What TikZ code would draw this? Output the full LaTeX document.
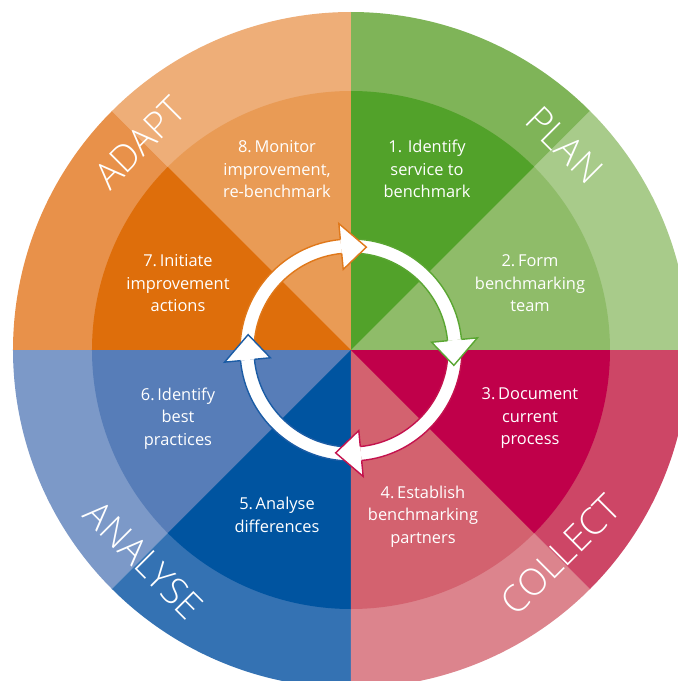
\documentclass[tikz,border=0pt]{standalone}
\usepackage{fontspec}
\setmainfont{Open Sans}
\newfontfamily\phasefont{Open Sans Light}

% quadrant palettes: dark sector, light sector, ring over dark, ring over light
\definecolor{orDark}{HTML}{DE6E0B}
\definecolor{orMid}{HTML}{E99B55}
\definecolor{orRingA}{HTML}{E8914A}
\definecolor{orRingB}{HTML}{EEAE78}
\definecolor{grDark}{HTML}{52A22A}
\definecolor{grMid}{HTML}{8FBC69}
\definecolor{grRingA}{HTML}{7FB458}
\definecolor{grRingB}{HTML}{A8CB8A}
\definecolor{rdDark}{HTML}{C0004A}
\definecolor{rdMid}{HTML}{D3626F}
\definecolor{rdRingA}{HTML}{CD4666}
\definecolor{rdRingB}{HTML}{DC848D}
\definecolor{blDark}{HTML}{0054A0}
\definecolor{blMid}{HTML}{577DB8}
\definecolor{blRingA}{HTML}{3472B3}
\definecolor{blRingB}{HTML}{7C99C8}
% arrow outlines
\definecolor{arOr}{HTML}{E0781A}
\definecolor{arGr}{HTML}{5AA632}
\definecolor{arRd}{HTML}{C4124E}
\definecolor{arBl}{HTML}{1B5CA5}

% filled pie slice: colour, start angle, end angle, radius
\newcommand\pieslice[4]{\fill[#1] (0,0) -- (#2:#4) arc[start angle=#2, end angle=#3, radius=#4] -- cycle;}
% curved arrow shaft: colour, start angle, end angle
\newcommand\cycbody[3]{%
  \fill[white] (#2:97) arc[start angle=#2, end angle=#3, radius=97] -- (#3:111) arc[start angle=#3, end angle=#2, radius=111] -- cycle;
  \draw[#1, arrline] (#2:97) arc[start angle=#2, end angle=#3, radius=97];
  \draw[#1, arrline] (#2:111) arc[start angle=#2, end angle=#3, radius=111];}
% arrow head: colour, base angle, tip angle
\newcommand\cychead[3]{%
  \fill[white] (#2:81) -- (#3:104) -- (#2:127) -- cycle;
  \draw[#1, arrline, line join=miter] (#2:111) -- (#2:127) -- (#3:104) -- (#2:81) -- (#2:97);}

\tikzset{
  arrline/.style={line width=1.4pt},
  stage/.style={text=white, align=center, inner sep=0pt, font=\fontsize{16.4}{22.5}\selectfont},
  phase/.style={text=white, inner sep=0pt, font=\phasefont\fontsize{37}{40}\selectfont}
}

\begin{document}
\begin{tikzpicture}[x=1pt,y=1pt]
\useasboundingbox (-351,-331) rectangle (327,350);
\clip (-351,-331) rectangle (327,350);
\fill[white] (-351,-331) rectangle (327,350);

% outer ring
\pieslice{grRingB}{0}{45}{338}
\pieslice{grRingA}{45}{90}{338}
\pieslice{orRingB}{90}{135}{338}
\pieslice{orRingA}{135}{180}{338}
\pieslice{blRingB}{180}{225}{338}
\pieslice{blRingA}{225}{270}{338}
\pieslice{rdRingB}{270}{315}{338}
\pieslice{rdRingA}{315}{360}{338}

% inner sectors
\pieslice{grMid}{0}{45}{259}
\pieslice{grDark}{45}{90}{259}
\pieslice{orMid}{90}{135}{259}
\pieslice{orDark}{135}{180}{259}
\pieslice{blMid}{180}{225}{259}
\pieslice{blDark}{225}{270}{259}
\pieslice{rdMid}{270}{315}{259}
\pieslice{rdDark}{315}{360}{259}

% phase labels
\node[phase, rotate=45]  (adapt)   at (135.5:296) {ADAPT};
\node[phase, rotate=-45] (plan)    at (43.8:296)  {PLAN};
\node[phase, rotate=45]  (collect) at (-44.3:293) {COLLECT};
\node[phase, rotate=-45] (analyse) at (-134.6:295) {ANALYSE};

% step texts
\node[stage] (s1) at (76,180.7)   {1. Identify\\service to\\benchmark};
\node[stage] (s2) at (179,66.5)   {2.\,Form\\benchmarking\\team};
\node[stage] (s3) at (179,-68.5)  {3.\,Document\\current\\process};
\node[stage] (s4) at (72,-166.5)  {4.\,Establish\\benchmarking\\partners};
\node[stage] (s5) at (-74,-165)   {5.\,Analyse\\differences};
\node[stage] (s6) at (-173,-68.5) {6.\,Identify\\best\\practices};
\node[stage] (s7) at (-173,66.5)  {7.\,Initiate\\improvement\\actions};
\node[stage] (s8) at (-74,180.7)  {8.\,Monitor\\improvement,\\re-benchmark};

% cycle of arrows: shafts first, heads on top
\cycbody{arOr}{178}{95.5}
\cycbody{arGr}{88}{5.5}
\cycbody{arRd}{-2}{-84.5}
\cycbody{arBl}{-92}{-174.5}
\cychead{arOr}{95.5}{81.5}
\cychead{arGr}{5.5}{-8.5}
\cychead{arRd}{-84.5}{-98.5}
\cychead{arBl}{-174.5}{-188.5}
\end{tikzpicture}
\end{document}
